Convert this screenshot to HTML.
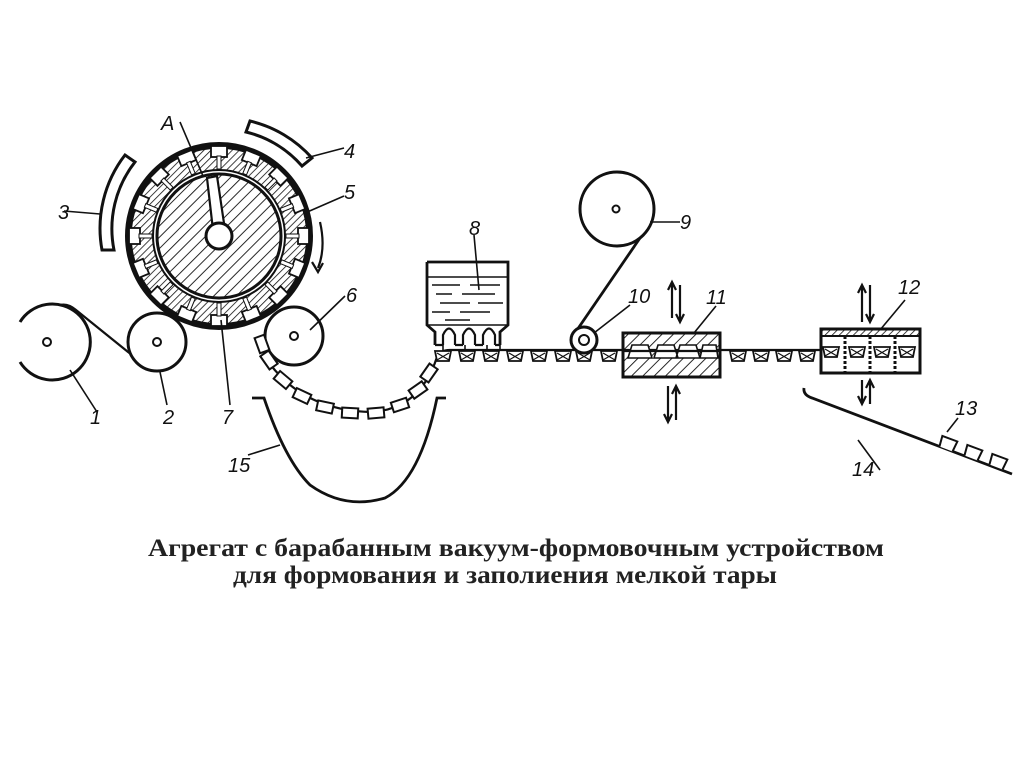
<!DOCTYPE html>
<html><head><meta charset="utf-8"><style>
html,body{margin:0;padding:0;background:#fff;width:1024px;height:767px;overflow:hidden}
svg{display:block}
.l{font-family:"Liberation Sans",sans-serif;font-style:italic;font-size:20px;fill:#111}
</style></head><body>
<svg width="1024" height="767" viewBox="0 0 1024 767" xmlns="http://www.w3.org/2000/svg">
<defs>
<pattern id="h1" patternUnits="userSpaceOnUse" width="8" height="8" patternTransform="rotate(45)"><line x1="0" y1="0" x2="0" y2="8" stroke="#111" stroke-width="1.8"/></pattern>
<pattern id="h2" patternUnits="userSpaceOnUse" width="5" height="5" patternTransform="rotate(45)"><line x1="0" y1="0" x2="0" y2="5" stroke="#111" stroke-width="1.6"/></pattern>
<g id="cav"><rect x="-8" y="-90" width="16" height="11" fill="#fff" stroke="#111" stroke-width="1.8"/><rect x="-2" y="-80" width="4" height="13" fill="#fff" stroke="#111" stroke-width="1"/></g>
<g id="cup"><path d="M-8,0 L8,0 L6,10 L-6,10 Z" fill="#fff" stroke="#111" stroke-width="1.8"/><path d="M-6,2 L6,9 M6,2 L-6,9" stroke="#111" stroke-width="1.2"/></g>
<g id="box"><rect x="-8" y="-5" width="16" height="10" fill="#fff" stroke="#111" stroke-width="2"/></g>
<g id="pk"><path d="M-7,0 L-8,-11 L8,-11 L7,0" fill="#fff" stroke="#111" stroke-width="2"/></g>
</defs>
<g fill="none" stroke="#111" stroke-width="2.8">
<!-- drum -->
<circle cx="219" cy="236" r="89" fill="url(#h2)" stroke-width="3.5"/>
<circle cx="219" cy="236" r="66" fill="#fff" stroke-width="2"/>
<g transform="translate(219,236)">
<use href="#cav" transform="rotate(0)"/><use href="#cav" transform="rotate(22.5)"/><use href="#cav" transform="rotate(45)"/><use href="#cav" transform="rotate(67.5)"/><use href="#cav" transform="rotate(90)"/><use href="#cav" transform="rotate(112.5)"/><use href="#cav" transform="rotate(135)"/><use href="#cav" transform="rotate(157.5)"/><use href="#cav" transform="rotate(180)"/><use href="#cav" transform="rotate(202.5)"/><use href="#cav" transform="rotate(225)"/><use href="#cav" transform="rotate(247.5)"/><use href="#cav" transform="rotate(270)"/><use href="#cav" transform="rotate(292.5)"/><use href="#cav" transform="rotate(315)"/><use href="#cav" transform="rotate(337.5)"/>
</g>
<circle cx="219" cy="236" r="92" stroke-width="4"/>
<circle cx="219" cy="236" r="62" fill="url(#h1)" stroke-width="3"/>
<path d="M207,178 L217,176 L225,230 L213,230 Z" fill="#fff" stroke-width="2.2"/>
<circle cx="219" cy="236" r="13" fill="#fff" stroke-width="3"/>
<line x1="180" y1="122" x2="203" y2="176" stroke-width="1.6"/>
<!-- segments 3 and 4 -->
<path d="M102,250 A120,120 0 0 1 125,155 L135,162 A108,108 0 0 0 114,250 Z" fill="#fff" stroke-width="3"/>
<path d="M250,121 A120,120 0 0 1 312,158 L302,166 A108,108 0 0 0 246,132 Z" fill="#fff" stroke-width="3"/>
<line x1="64" y1="211" x2="100" y2="214" stroke-width="1.6"/>
<line x1="306" y1="158" x2="344" y2="148" stroke-width="1.6"/>
<line x1="305" y1="213" x2="344" y2="196" stroke-width="1.6"/>
<!-- rotation arrow -->
<path d="M320,222 Q326,248 318,268" stroke-width="2.2"/>
<path d="M312,262 L318,272 L323,263" stroke-width="2.2"/>
<!-- roll 1 -->
<path d="M20,322 A38,38 0 1 1 20,362" stroke-width="3"/>
<circle cx="47" cy="342" r="4" stroke-width="2"/>
<path d="M60,305 Q68,303 76,310 L138,360" stroke-width="2.2"/>
<line x1="70" y1="370" x2="97" y2="412" stroke-width="1.6"/>
<!-- roll 2 -->
<circle cx="157" cy="342" r="29" fill="#fff" stroke-width="3"/>
<circle cx="157" cy="342" r="4" stroke-width="2"/>
<line x1="160" y1="372" x2="167" y2="405" stroke-width="1.6"/>
<line x1="221" y1="320" x2="230" y2="405" stroke-width="1.6"/>
<!-- roll 6 -->
<circle cx="294" cy="336" r="29" fill="#fff" stroke-width="3"/>
<circle cx="294" cy="336" r="4" stroke-width="2"/>
<line x1="310" y1="330" x2="345" y2="296" stroke-width="1.6"/>
<!-- cup chain -->
<path d="M265,357 Q300,410 370,412 Q420,410 437,357 Q440,350 450,350 L920,350" stroke-width="2.2"/>
</g>
<g>
<use href="#box" transform="translate(262,344) rotate(70)"/>
<use href="#box" transform="translate(269,360) rotate(55)"/>
<use href="#box" transform="translate(283,380) rotate(40)"/>
<use href="#box" transform="translate(302,396) rotate(25)"/>
<use href="#box" transform="translate(325,407) rotate(12)"/>
<use href="#box" transform="translate(350,413) rotate(3)"/>
<use href="#box" transform="translate(376,413) rotate(-5)"/>
<use href="#box" transform="translate(400,405) rotate(-18)"/>
<use href="#box" transform="translate(418,390) rotate(-35)"/>
<use href="#box" transform="translate(429,373) rotate(-55)"/>
</g>
<g>
<use href="#cup" transform="translate(443,351)"/><use href="#cup" transform="translate(467,351)"/><use href="#cup" transform="translate(491,351)"/><use href="#cup" transform="translate(515,351)"/><use href="#cup" transform="translate(539,351)"/><use href="#cup" transform="translate(563,351)"/><use href="#cup" transform="translate(584,351)"/><use href="#cup" transform="translate(609,351)"/>
<use href="#cup" transform="translate(738,351)"/><use href="#cup" transform="translate(761,351)"/><use href="#cup" transform="translate(784,351)"/><use href="#cup" transform="translate(807,351)"/>
</g>
<g fill="none" stroke="#111" stroke-width="2.8">
<!-- tank 8 -->
<path d="M427,262 L508,262 L508,325 L500,332 L500,345 M427,262 L427,325 L435,332 L435,345" fill="#fff"/>
<path d="M427,325 L508,325" stroke-width="1.6"/>
<g stroke-width="1.6">
<path d="M428,277 L507,277"/>
<path d="M432,285 L460,285 M470,285 L500,285 M436,294 L452,294 M462,294 L495,294 M440,303 L470,303 M478,303 L503,303 M432,312 L450,312 M460,312 L490,312 M445,320 L470,320"/>
</g>
<path d="M443,345 L443,335 Q449,322 455,335 L455,345 M463,345 L463,335 Q469,322 475,335 L475,345 M483,345 L483,335 Q489,322 495,335 L495,345" stroke-width="2.2"/>
<path d="M435,345 L443,345 M455,345 L463,345 M475,345 L483,345 M495,345 L500,345" stroke-width="2.2"/>
<path d="M443,345 L443,351 M465,345 L465,351 M487,345 L487,351 M500,345 L500,351" stroke-width="1.6"/>
<line x1="474" y1="235" x2="479" y2="290" stroke-width="1.6"/>
<!-- roll 9 and 10 -->
<circle cx="617" cy="209" r="37" fill="#fff" stroke-width="3"/>
<circle cx="616" cy="209" r="3.5" stroke-width="2"/>
<line x1="650" y1="222" x2="680" y2="222" stroke-width="1.6"/>
<line x1="640" y1="238" x2="577" y2="330" stroke-width="2.8"/>
<circle cx="584" cy="340" r="13" fill="#fff" stroke-width="3"/>
<circle cx="584" cy="340" r="5" stroke-width="2"/>
<line x1="594" y1="333" x2="630" y2="305" stroke-width="1.6"/>
<!-- block 11 -->
<rect x="623" y="333" width="97" height="44" fill="url(#h1)" stroke-width="3"/>
<path d="M632,345 L648,345 L652,358 L628,358 Z M658,345 L674,345 L678,358 L654,358 Z M680,345 L696,345 L700,358 L676,358 Z M703,345 L716,345 L718,358 L700,358 Z" fill="#fff" stroke-width="1.6"/>
<line x1="623" y1="351" x2="720" y2="351" stroke-width="2.2"/>
<line x1="694" y1="333" x2="716" y2="306" stroke-width="1.6"/>
<!-- block 12 -->
<rect x="821" y="329" width="99" height="44" fill="#fff" stroke-width="3"/>
<rect x="821" y="329" width="99" height="7" fill="url(#h2)" stroke-width="2"/>
<path d="M845,336 L845,373 M870,336 L870,373 M895,336 L895,373" stroke-width="3" stroke-dasharray="3,2"/>
<line x1="880" y1="330" x2="905" y2="300" stroke-width="1.6"/>
<!-- arrows -->
<g stroke-width="2.2">
<path d="M672,282 L672,318 M668,290 L672,282 L676,290 M680,285 L680,322 M676,314 L680,322 L684,314"/>
<path d="M668,386 L668,422 M664,414 L668,422 L672,414 M676,386 L676,420 M672,394 L676,386 L680,394"/>
<path d="M862,285 L862,322 M858,293 L862,285 L866,293 M870,285 L870,322 M866,314 L870,322 L874,314"/>
<path d="M862,380 L862,404 M858,396 L862,404 L866,396 M870,380 L870,404 M866,388 L870,380 L874,388"/>
</g>
<!-- chute 14 -->
<path d="M804,388 Q803,395 812,398 L1012,474" stroke-width="2.8"/>
<line x1="858" y1="440" x2="880" y2="470" stroke-width="1.6"/>
<line x1="947" y1="432" x2="958" y2="418" stroke-width="1.6"/>
<!-- trough 15 -->
<path d="M252,398 L264,398 Q285,460 310,485 Q345,510 385,498 Q420,480 437,398 L446,398" stroke-width="2.8"/>
<line x1="248" y1="455" x2="280" y2="445" stroke-width="1.6"/>
</g>
<g>
<use href="#cup" transform="translate(831,347)"/><use href="#cup" transform="translate(857,347)"/><use href="#cup" transform="translate(882,347)"/><use href="#cup" transform="translate(907,347)"/>
<use href="#pk" transform="translate(946,449) rotate(20.5)"/>
<use href="#pk" transform="translate(971,458) rotate(20.5)"/>
<use href="#pk" transform="translate(996,467) rotate(20.5)"/>
</g>
<!-- labels -->
<text class="l" x="161" y="130">A</text>
<text class="l" x="344" y="158">4</text>
<text class="l" x="344" y="199">5</text>
<text class="l" x="58" y="219">3</text>
<text class="l" x="346" y="302">6</text>
<text class="l" x="469" y="235">8</text>
<text class="l" x="680" y="229">9</text>
<text class="l" x="628" y="303">10</text>
<text class="l" x="706" y="304">11</text>
<text class="l" x="898" y="294">12</text>
<text class="l" x="90" y="424">1</text>
<text class="l" x="163" y="424">2</text>
<text class="l" x="222" y="424">7</text>
<text class="l" x="228" y="472">15</text>
<text class="l" x="955" y="415">13</text>
<text class="l" x="852" y="476">14</text>
<text x="148" y="556" font-family="Liberation Serif, serif" font-size="25" font-weight="bold" fill="#222" textLength="736" lengthAdjust="spacingAndGlyphs">Агрегат с барабанным вакуум-формовочным устройством</text>
<text x="233" y="583" font-family="Liberation Serif, serif" font-size="25" font-weight="bold" fill="#222" textLength="544" lengthAdjust="spacingAndGlyphs">для формования и заполиения мелкой тары</text>
</svg>
</body></html>
